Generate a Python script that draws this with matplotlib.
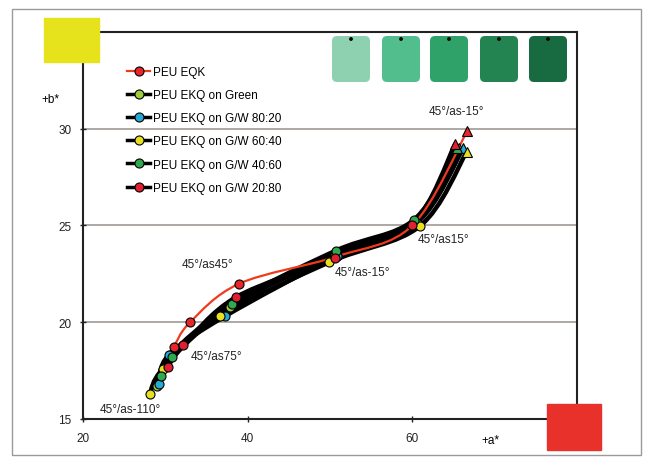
import numpy as np
import matplotlib.pyplot as plt
from matplotlib.path import Path
from matplotlib.patches import PathPatch, Rectangle, FancyBboxPatch, Circle
from matplotlib.lines import Line2D

plt.rcParams['font.family'] = ['Liberation Sans', 'DejaVu Sans']

## CIELab a*/b* readings, geometries in order: as-110, as75, as45, as-15, as15, top
eqk_a = [31.0, 33.0, 39.0, 50.8, 60.0, 66.7]
eqk_b = [18.7, 20.0, 22.0, 23.4, 25.0, 29.9]
green_a = [29.0, 30.6, 37.8, 50.6, 60.2, 65.7]
green_b = [16.7, 18.3, 20.8, 23.5, 25.2, 29.0]
gw8020_a = [29.2, 30.4, 37.2, 50.8, 60.6, 66.2]
gw8020_b = [16.8, 18.3, 20.3, 23.4, 25.15, 29.0]
gw6040_a = [28.1, 29.7, 36.6, 49.9, 60.9, 66.6]
gw6040_b = [16.3, 17.6, 20.3, 23.1, 24.96, 28.8]
gw4060_a = [29.5, 30.8, 38.1, 50.7, 60.2, 65.4]
gw4060_b = [17.2, 18.2, 20.96, 23.7, 25.3, 29.0]
gw2080_a = [30.3, 32.2, 38.6, 50.6, 60.0, 65.2]
gw2080_b = [17.7, 18.8, 21.3, 23.3, 25.05, 29.2]

series_names = ["PEU EQK", "PEU EKQ on Green", "PEU EKQ on G/W 80:20",
                "PEU EKQ on G/W 60:40", "PEU EKQ on G/W 40:60", "PEU EKQ on G/W 20:80"]
marker_colors = ["#e8262a", "#9ccc3c", "#27a9d6", "#e6e020", "#2fa84f", "#e02030"]

geo_labels = ["45°/as-110°", "45°/as75°", "45°/as45°", "45°/as-15°", "45°/as15°", "45°/as-15°"]
geo_label_a = [25.8, 36.2, 35.1, 53.9, 63.8, 65.4]
geo_label_b = [15.5, 18.25, 23.0, 22.6, 24.3, 30.9]

swatch_colors = ["#8dd1b1", "#52bd8d", "#2fa26a", "#238452", "#186a40"]


def smooth_path(xs, ys):
    ## excel-like smoothed line (catmull-rom -> bezier)
    pts = np.column_stack([xs, ys])
    n = len(pts)
    verts = [pts[0]]
    codes = [Path.MOVETO]
    for i in range(n - 1):
        p0 = pts[max(i - 1, 0)]
        p1 = pts[i]
        p2 = pts[i + 1]
        p3 = pts[min(i + 2, n - 1)]
        verts += [p1 + (p2 - p0) / 6, p2 - (p3 - p1) / 6, p2]
        codes += [Path.CURVE4] * 3
    return Path(verts, codes)


fig = plt.figure(figsize=(6.45, 4.6), dpi=100)
ax = fig.add_axes([83 / 645, 1 - 420 / 460, (577 - 83) / 645, (420 - 33) / 460])

all_a = [eqk_a, green_a, gw8020_a, gw6040_a, gw4060_a, gw2080_a]
all_b = [eqk_b, green_b, gw8020_b, gw6040_b, gw4060_b, gw2080_b]

## thick black lines first
for a, b in zip(all_a[1:], all_b[1:]):
    ax.add_patch(PathPatch(smooth_path(a, b), fill=False, color="black", lw=3.2,
                           capstyle="round", joinstyle="round", zorder=2))
ax.add_patch(PathPatch(smooth_path(eqk_a, eqk_b), fill=False, color="#f03a1c", lw=1.6, zorder=3))

for a, b, c in zip(all_a, all_b, marker_colors):
    ax.plot(a[:-1], b[:-1], ls="none", marker="o", ms=6.5, mfc=c, mec="black", mew=0.8, zorder=4)
    ax.plot(a[-1:], b[-1:], ls="none", marker="^", ms=6.5, mfc=c, mec="black", mew=0.8, zorder=4)

for t, x, y in zip(geo_labels, geo_label_a, geo_label_b):
    ax.text(x, y, t, fontsize=8.5, ha="center", va="center", color="#222222", zorder=5)

ax.set_xlim(20, 80)
ax.set_ylim(15, 35)
ax.set_xticks([20, 40, 60])
ax.set_yticks([15, 20, 25, 30])
ax.tick_params(direction="inout", length=5, width=1, labelsize=8.5, colors="#222222")
ax.tick_params(axis="y", pad=6)
ax.tick_params(axis="x", pad=7)
for y in [20, 25, 30]:
    ax.axhline(y, color="#a09a95", lw=1.2, zorder=1)
for s in ax.spines.values():
    s.set_linewidth(1.5)
    s.set_color("#222222")

## legend
handles = [Line2D([], [], color="#f03a1c", lw=1.6, marker="o", ms=6.5,
                  mfc=marker_colors[0], mec="black", mew=0.8)]
for c in marker_colors[1:]:
    handles.append(Line2D([], [], color="black", lw=2.5, marker="o", ms=6.5, mfc=c, mec="black", mew=0.8))
fig.legend(handles, series_names, loc="upper left", bbox_to_anchor=(122 / 645, 1 - 62 / 460),
           frameon=False, fontsize=8.5, handlelength=2.0, handletextpad=0.2, labelspacing=0.95,
           borderaxespad=0)

## axis titles
fig.text(50 / 645, 1 - 100 / 460, "+b*", fontsize=8.5, ha="center", va="center")
fig.text(490 / 645, 1 - 441 / 460, "+a*", fontsize=8.5, ha="center", va="center")

## decorations (pixel coords / 100 -> inches)
def px(x, y):
    return x / 100, (460 - y) / 100

tr = fig.dpi_scale_trans
fig.patches.append(Rectangle(px(12, 456), 6.29, 4.46, fill=False, ec="#9a9a9a", lw=1, transform=tr))
fig.patches.append(Rectangle(px(44, 63), 0.55, 0.44, color="#e6e31c", transform=tr, zorder=5))
fig.patches.append(Rectangle(px(547, 451), 0.54, 0.46, color="#e8312b", transform=tr, zorder=5))
sw_left = [332, 382, 430, 480, 529]
for x0, c in zip(sw_left, swatch_colors):
    fig.patches.append(FancyBboxPatch(px(x0, 83), 0.38, 0.46, boxstyle="round,pad=0,rounding_size=0.05",
                                      fc=c, ec="none", transform=tr, zorder=5))
    fig.patches.append(Circle(px(x0 + 19, 40), 0.012, color="black", transform=tr, zorder=6))

fig.savefig("out.png", dpi=100)
